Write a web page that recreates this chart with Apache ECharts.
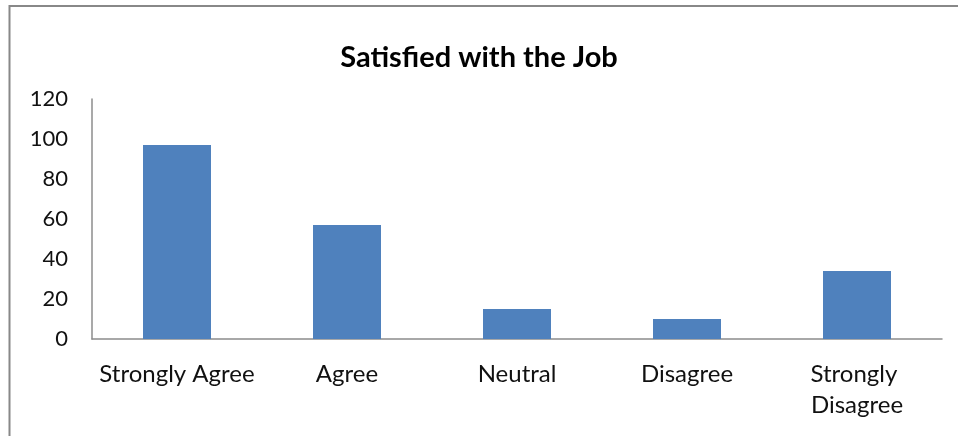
<!DOCTYPE html>
<html>
<head>
<meta charset="utf-8">
<script src="https://cdn.jsdelivr.net/npm/echarts@6/dist/echarts.min.js"></script>
<style>
  html, body { margin: 0; padding: 0; background: #fff; }
  #chart { width: 958px; height: 436px; }
</style>
</head>
<body>
<div id="chart"></div>
<script>
// values
const categories = ['Strongly Agree', 'Agree', 'Neutral', 'Disagree', 'Strongly Disagree'];
const satisfied = [97, 57, 15, 10, 34];
const yTicks = [0, 20, 40, 60, 80, 100, 120];

const font = 'Lato, "Open Sans", sans-serif';
let chart = echarts.init(document.getElementById('chart'));

chart.setOption({
  animation: false,
  title: {
    text: 'Satisfied with the Job',
    left: 'center',
    top: 38,
    textStyle: { fontFamily: font, fontSize: 29, fontWeight: 'bold', color: '#000' }
  },
  graphic: [{
    type: 'rect',
    shape: { x: 9.5, y: 6, width: 1000, height: 500 },
    style: { fill: 'none', stroke: '#888', lineWidth: 2 },
    silent: true
  }],
  grid: { left: 92, right: 16, top: 99, bottom: 97 },
  xAxis: {
    type: 'category',
    data: categories,
    axisLine: { lineStyle: { color: '#8c8c8c', width: 1.5 } },
    axisTick: { show: false },
    axisLabel: {
      fontFamily: font, fontSize: 24, color: '#111', margin: 20,
      interval: 0, width: 165, overflow: 'break', lineHeight: 31
    }
  },
  yAxis: {
    type: 'value',
    min: 0,
    max: yTicks[yTicks.length - 1],
    interval: 20,
    axisLine: { show: true, lineStyle: { color: '#8c8c8c', width: 1.5 } },
    axisTick: { show: false },
    splitLine: { show: false },
    axisLabel: { fontFamily: font, fontSize: 22, color: '#111', margin: 24 }
  },
  series: [{
    type: 'bar',
    data: satisfied,
    barCategoryGap: '60%',
    itemStyle: { color: '#4F81BD' }
  }]
});
</script>
</body>
</html>
